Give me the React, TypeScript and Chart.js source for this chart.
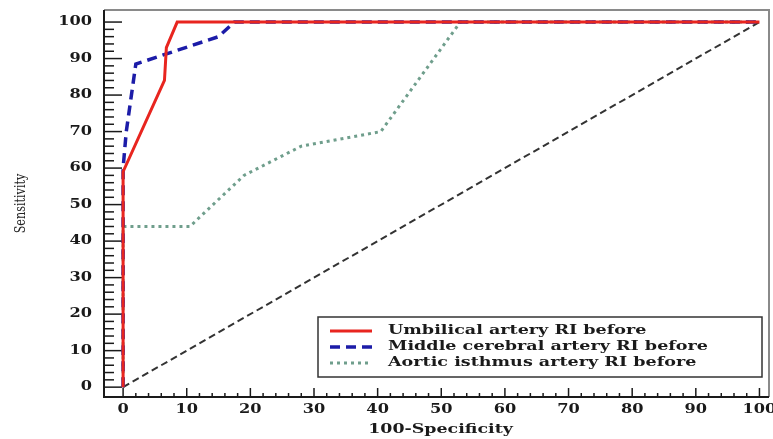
import React, { useEffect, useRef } from "react";
import { Chart, registerables } from "chart.js";

Chart.register(...registerables);

// ---- Data ----
const seriesLabels = [
  "Umbilical artery RI before",
  "Middle cerebral artery RI before",
  "Aortic isthmus artery RI before",
];
const umbilicalX = [0, 0, 6.5, 6.8, 8.5, 100];
const umbilicalY = [0, 59, 84, 93, 100, 100];
const middleX = [0, 0, 0.5, 2, 15, 17.5, 100];
const middleY = [0, 60, 70, 88.5, 96, 100, 100];
const aorticX = [0, 0, 10.5, 19, 28, 40.5, 53, 100];
const aorticY = [0, 44, 44, 58, 66, 70, 100, 100];
const refX = [0, 100];
const refY = [0, 100];
const xTicks = [0, 10, 20, 30, 40, 50, 60, 70, 80, 90, 100];
const yTicks = [0, 10, 20, 30, 40, 50, 60, 70, 80, 90, 100];
const xTitle = "100-Specificity";
const yTitle = "Sensitivity";

const toPts = (xs: number[], ys: number[]) => xs.map((x, i) => ({ x, y: ys[i] }));

const FONT = "'DejaVu Serif', serif";
const STRETCH = 1.35;

function stretchedText(
  ctx: CanvasRenderingContext2D,
  text: string,
  x: number,
  y: number,
  align: "left" | "center" | "right",
  sx: number
) {
  const w = ctx.measureText(text).width * sx;
  let x0 = x;
  if (align === "center") x0 = x - w / 2;
  else if (align === "right") x0 = x - w;
  ctx.save();
  ctx.translate(x0, y);
  ctx.scale(sx, 1);
  ctx.textAlign = "left";
  ctx.fillText(text, 0, 0);
  ctx.restore();
}

const framePlugin = {
  id: "frameTicks",
  beforeDatasetsDraw(chart: any) {
    const { ctx, chartArea } = chart;
    const xs = chart.scales.x;
    const ys = chart.scales.y;
    ctx.save();
    // frame
    ctx.strokeStyle = "#8a8a8a";
    ctx.lineWidth = 2;
    ctx.beginPath();
    ctx.moveTo(chartArea.left, chartArea.top);
    ctx.lineTo(chartArea.right, chartArea.top);
    ctx.lineTo(chartArea.right, chartArea.bottom);
    ctx.stroke();
    ctx.strokeStyle = "#1a1a1a";
    ctx.beginPath();
    ctx.moveTo(chartArea.left, chartArea.top);
    ctx.lineTo(chartArea.left, chartArea.bottom);
    ctx.lineTo(chartArea.right, chartArea.bottom);
    ctx.stroke();
    // ticks (inward)
    ctx.lineWidth = 1.5;
    for (let v = 0; v <= 100; v += 2) {
      const major = v % 10 === 0;
      const py = ys.getPixelForValue(v);
      ctx.beginPath();
      ctx.moveTo(chartArea.left, py);
      ctx.lineTo(chartArea.left + (major ? 18 : 10), py);
      ctx.stroke();
      const px = xs.getPixelForValue(v);
      ctx.beginPath();
      ctx.moveTo(px, chartArea.bottom);
      ctx.lineTo(px, chartArea.bottom - (major ? 9 : 4));
      ctx.stroke();
    }
    // tick labels
    ctx.fillStyle = "#1a1a1a";
    ctx.font = `bold 12px ${FONT}`;
    ctx.textBaseline = "middle";
    yTicks.forEach((v) => {
      stretchedText(ctx, String(v), chartArea.left - 12, ys.getPixelForValue(v), "right", STRETCH);
    });
    xTicks.forEach((v) => {
      stretchedText(ctx, String(v), xs.getPixelForValue(v), chartArea.bottom + 13, "center", STRETCH);
    });
    // axis titles
    ctx.font = `bold 12px ${FONT}`;
    stretchedText(ctx, xTitle, (chartArea.left + chartArea.right) / 2 + 4, chartArea.bottom + 33, "center", 1.45);
    ctx.save();
    ctx.translate(21, (chartArea.top + chartArea.bottom) / 2);
    ctx.rotate(-Math.PI / 2);
    ctx.font = `14px ${FONT}`;
    ctx.fillStyle = "#222";
    stretchedText(ctx, yTitle, 0, 0, "center", 0.8);
    ctx.restore();
    ctx.restore();
  },
  afterDatasetsDraw(chart: any) {
    const { ctx, chartArea } = chart;
    const left = chartArea.right - 451;
    const right = chartArea.right - 7;
    const top = chartArea.bottom - 80;
    const bottom = chartArea.bottom - 20;
    ctx.save();
    ctx.fillStyle = "#ffffff";
    ctx.fillRect(left, top, right - left, bottom - top);
    ctx.strokeStyle = "#333";
    ctx.lineWidth = 1.5;
    ctx.strokeRect(left, top, right - left, bottom - top);
    ctx.font = `bold 13px ${FONT}`;
    ctx.textBaseline = "middle";
    ctx.fillStyle = "#1a1a1a";
    for (let i = 0; i < 3; i++) {
      const ds = chart.data.datasets[i];
      const cy = top + 14 + i * 16;
      ctx.strokeStyle = ds.borderColor;
      ctx.lineWidth = ds.borderWidth;
      ctx.setLineDash(ds.borderDash || []);
      ctx.beginPath();
      ctx.moveTo(left + 12, cy);
      ctx.lineTo(left + 54, cy);
      ctx.stroke();
      ctx.setLineDash([]);
      stretchedText(ctx, ds.label, left + 70, cy, "left", 1.35);
    }
    ctx.restore();
  },
};

export default function App() {
  const ref = useRef<HTMLCanvasElement>(null);
  useEffect(() => {
    if (!ref.current) return;
    const chart = new Chart(ref.current, {
      type: "line",
      data: {
        datasets: [
          {
            label: seriesLabels[0],
            data: toPts(umbilicalX, umbilicalY),
            borderColor: "#e8251f",
            borderWidth: 3,
            pointRadius: 0,
            tension: 0,
          },
          {
            label: seriesLabels[1],
            data: toPts(middleX, middleY),
            borderColor: "#1c1ca8",
            borderWidth: 3.5,
            borderDash: [10, 6],
            pointRadius: 0,
            tension: 0,
          },
          {
            label: seriesLabels[2],
            data: toPts(aorticX, aorticY),
            borderColor: "#6f9e8c",
            borderWidth: 3,
            borderDash: [3, 4],
            pointRadius: 0,
            tension: 0,
          },
          {
            label: "Reference",
            data: toPts(refX, refY),
            borderColor: "#333333",
            borderWidth: 2,
            borderDash: [7, 4],
            pointRadius: 0,
            tension: 0,
            order: 5,
          },
        ],
      },
      options: {
        responsive: false,
        animation: false,
        maintainAspectRatio: false,
        layout: { padding: { top: 10, right: 21, left: 0, bottom: 0 } },
        plugins: { legend: { display: false }, tooltip: { enabled: false } },
        scales: {
          x: {
            type: "linear",
            min: -3,
            max: 101.5,
            afterBuildTicks: (s: any) => {
              s.ticks = xTicks.map((v) => ({ value: v }));
            },
            afterFit: (s: any) => {
              s.height = 42;
              s.paddingLeft = 0;
              s.paddingRight = 0;
              s.paddingTop = 0;
              s.paddingBottom = 0;
            },
            grid: { display: false, drawTicks: false },
            border: { display: false },
            ticks: { display: false },
            title: { display: false },
          },
          y: {
            type: "linear",
            min: -2.7,
            max: 103.3,
            afterBuildTicks: (s: any) => {
              s.ticks = yTicks.map((v) => ({ value: v }));
            },
            afterFit: (s: any) => {
              s.width = 104;
              s.paddingLeft = 0;
              s.paddingRight = 0;
              s.paddingTop = 0;
              s.paddingBottom = 0;
            },
            grid: { display: false, drawTicks: false },
            border: { display: false },
            ticks: { display: false },
            title: { display: false },
          },
        },
      },
      plugins: [framePlugin],
    });
    return () => chart.destroy();
  }, []);
  return (
    <div
      style={{
        position: "fixed",
        left: 0,
        top: 0,
        width: 773,
        height: 439,
        overflow: "hidden",
        background: "#fff",
      }}
    >
      <canvas ref={ref} width={790} height={439} style={{ display: "block" }} />
    </div>
  );
}
